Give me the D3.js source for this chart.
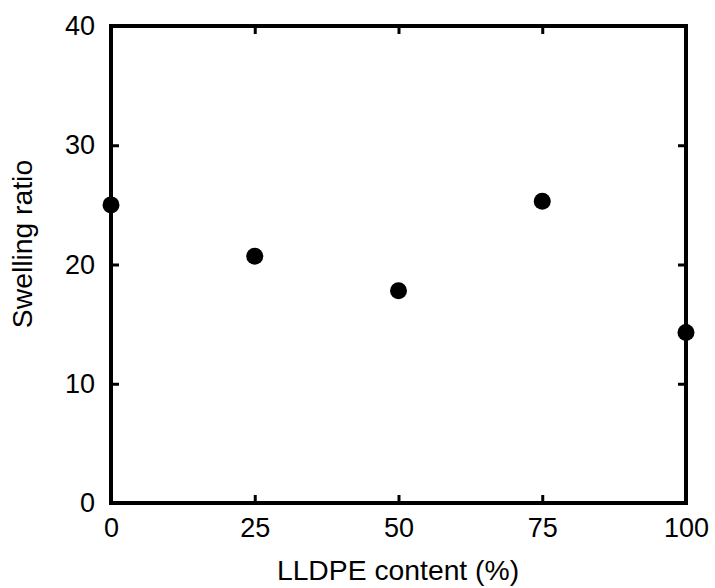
<!DOCTYPE html>
<html>
<head>
<meta charset="utf-8">
<script src="https://cdn.jsdelivr.net/npm/d3@7"></script>
<style>
  html, body { margin: 0; padding: 0; background: #fff; }
  svg { display: block; }
  text { font-family: "Liberation Sans", Arial, sans-serif; fill: #000; }
</style>
</head>
<body>
<svg id="chart" width="715" height="588"></svg>
<script>
const content = [0, 25, 50, 75, 100];
const swelling = [25.0, 20.7, 17.8, 25.3, 14.3];
const xTicks = [0, 25, 50, 75, 100];
const yTicks = [0, 10, 20, 30, 40];
const xTitle = "LLDPE content (%)";
const yTitle = "Swelling ratio";

(function () {
const svg = d3.select("#chart");
const mLeft = 111, mRight = 686, mTop = 26, mBottom = 503;
const x = d3.scaleLinear().domain([0, 100]).range([mLeft, mRight]);
const y = d3.scaleLinear().domain([0, 40]).range([mBottom, mTop]);
const fs = 27, fsTitle = 28.3, tl = 8;

function style(g, labels) {
  g.select(".domain").remove();
  g.selectAll(".tick line").attr("stroke", "#000").attr("stroke-width", 3);
  g.selectAll(".tick text").attr("font-size", fs).attr("font-family", '"Liberation Sans", Arial, sans-serif');
  if (!labels) g.selectAll(".tick text").remove();
}

svg.append("g").attr("transform", `translate(0,${mBottom})`)
  .call(d3.axisBottom(x).tickValues(xTicks).tickSize(-tl).tickPadding(15).tickFormat(d3.format("d")))
  .call(g => style(g, true));
svg.append("g").attr("transform", `translate(0,${mTop})`)
  .call(d3.axisTop(x).tickValues(xTicks).tickSize(-tl))
  .call(g => style(g, false));
svg.append("g").attr("transform", `translate(${mLeft},0)`)
  .call(d3.axisLeft(y).tickValues(yTicks).tickSize(-tl).tickPadding(16).tickFormat(d3.format("d")))
  .call(g => style(g, true));
svg.append("g").attr("transform", `translate(${mRight},0)`)
  .call(d3.axisRight(y).tickValues(yTicks).tickSize(-tl))
  .call(g => style(g, false));

svg.append("rect")
  .attr("x", mLeft).attr("y", mTop)
  .attr("width", mRight - mLeft).attr("height", mBottom - mTop)
  .attr("fill", "none").attr("stroke", "#000").attr("stroke-width", 4);

svg.append("g").selectAll("circle")
  .data(content.map((c, i) => ({ c, v: swelling[i] })))
  .join("circle")
  .attr("cx", d => x(d.c)).attr("cy", d => y(d.v))
  .attr("r", 8.5).attr("fill", "#000");

svg.append("text")
  .attr("x", 398).attr("y", 580)
  .attr("text-anchor", "middle").attr("font-size", fsTitle)
  .text(xTitle);

svg.append("text")
  .attr("transform", `translate(32,244) rotate(-90)`)
  .attr("text-anchor", "middle").attr("font-size", fsTitle)
  .text(yTitle);
})();
</script>
</body>
</html>
